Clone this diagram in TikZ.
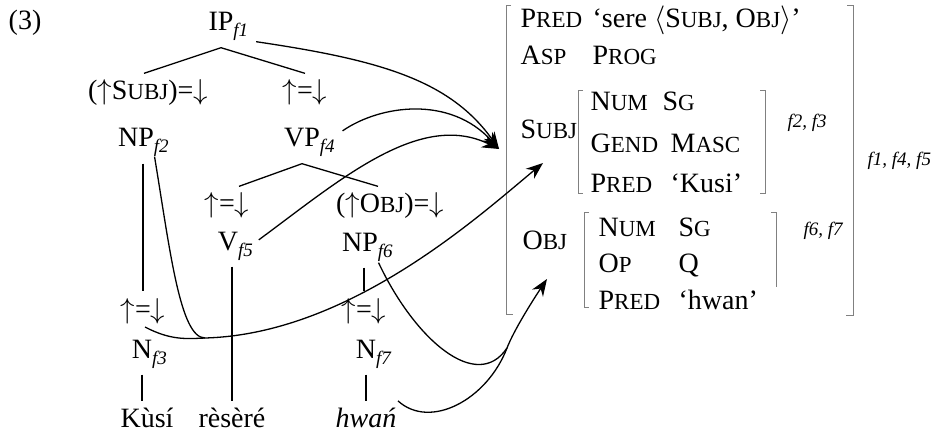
\documentclass[tikz,border=0pt]{standalone}
\usepackage{fontspec}
\setmainfont{Liberation Serif}
\usetikzlibrary{arrows.meta,positioning}
\definecolor{brk}{gray}{0.5}
\newcommand\smc[2]{#1{\fontsize{11.5pt}{12pt}\selectfont #2}}
\newcommand\fsub[1]{\rlap{\raisebox{-3pt}{\fontsize{9.5pt}{10pt}\selectfont\itshape #1}}}
\newcommand\up{$\uparrow$}
\newcommand\dn{$\downarrow$}
\begin{document}
\begin{tikzpicture}[x=0.5pt,y=-0.5pt,line width=0.65pt,
every node/.style={font=\fontsize{14pt}{16pt}\selectfont,inner sep=3pt,anchor=base},
av/.style={anchor=base west,inner sep=0pt},
fl/.style={anchor=base west,inner sep=0pt,font=\fontsize{9.5pt}{11pt}\selectfont\itshape},
brk/.style={draw=brk,line width=0.45pt},
arr/.style={-{Stealth[length=8.5pt,width=6.5pt]}}]
\useasboundingbox (0,0) rectangle (937,433);
\node (ex) at (25,30) {(3)};
\node (ip) at (221,31) {IP\fsub{f1}};
\node (su) at (148,100) {(\up\smc{S}{UBJ})=\dn};
\node (hd) at (305,100) {\up=\dn};
\node (np2) at (136,147) {NP\fsub{f2}};
\node (vp) at (302,147) {VP\fsub{f4}};
\node (hv) at (227,213) {\up=\dn};
\node (ob) at (390,213) {(\up\smc{O}{BJ})=\dn};
\node (v) at (228,250) {V\fsub{f5}};
\node (np6) at (360,251) {NP\fsub{f6}};
\node (h3) at (143,318) {\up=\dn};
\node (h7) at (364,318) {\up=\dn};
\node (n3) at (142,358) {N\fsub{f3}};
\node (n7) at (366,358) {N\fsub{f7}};
\node (w1) at (147,427) {Kùsí};
\node (w2) at (232,427) {rèsèré};
\node (w3) at (366,427) {\itshape hwań};
\draw (ip.south) -- ([xshift=-2pt]su.north) (ip.south) -- (hd.north);
\draw (vp.south) -- ([xshift=6pt]hv.north) (vp.south) -- ([xshift=-6pt]ob.north);
\draw (h3.north |- np2.south) -- (h3.north);
\draw (w2.north |- v.south) -- (w2.north);
\draw (h7.north |- np6.south) -- (h7.north);
\draw (n3.south) -- (n3.south |- w1.north);
\draw (n7.south) -- (n7.south |- w3.north);
\node[av] (p1) at (520,28) {\smc{P}{RED}};
\node[av] (p1v) at (592,28) {‘sere $\langle$\smc{S}{UBJ}, \smc{O}{BJ}$\rangle$’};
\node[av] (as) at (520,65) {\smc{A}{SP}};
\node[av] (asv) at (592,65) {\smc{P}{ROG}};
\node[av] (sj) at (520,139) {\smc{S}{UBJ}};
\node[av] (nm1) at (590,111) {\smc{N}{UM}};
\node[av] (nm1v) at (662,111) {\smc{S}{G}};
\node[av] (gd) at (590,153) {\smc{G}{END}};
\node[av] (gdv) at (670,153) {\smc{M}{ASC}};
\node[av] (p2) at (590,192) {\smc{P}{RED}};
\node[av] (p2v) at (670,192) {‘Kusi’};
\node[fl] (l23) at (787,127) {f2, f3};
\node[fl] (l145) at (867,165) {f1, f4, f5};
\node[av] (oj) at (522,249) {\smc{O}{BJ}};
\node[av] (nm2) at (598,236) {\smc{N}{UM}};
\node[av] (nm2v) at (678,236) {\smc{S}{G}};
\node[av] (op) at (598,272) {\smc{O}{P}};
\node[av] (opv) at (678,272) {Q};
\node[av] (p3) at (598,309) {\smc{P}{RED}};
\node[av] (p3v) at (678,309) {‘hwan’};
\node[fl] (l67) at (803,235) {f6, f7};
\draw[brk] (511,5) -- (506,5) -- (506,314) -- (513,314);
\draw[brk] (847,5) -- (853,5) -- (853,315) -- (846,315);
\draw[brk] (583,90) -- (578,90) -- (578,193) -- (583,193);
\draw[brk] (760,90) -- (765,90) -- (765,193) -- (760,193);
\draw[brk] (589,212) -- (584,212) -- (584,307) -- (589,307);
\draw[brk] (771,212) -- (776,212) -- (776,287);
\coordinate (tf) at (499,149);
\coordinate (ts) at (543,163);
\coordinate (to) at (547,279);
\coordinate (ms) at (205,338);
\coordinate (mo) at (507,348);
\draw[arr] ([xshift=8pt,yshift=3pt]ip.south east) .. controls (380,60) and (450,80) .. (tf);
\draw[arr] ([xshift=8pt,yshift=6pt]vp.east) .. controls (380,105) and (450,95) .. (tf);
\draw[arr] ([xshift=7pt,yshift=3pt]v.east) .. controls (340,180) and (420,110) .. (tf);
\draw[arr] ([xshift=1.5pt,yshift=3pt]n3.north) .. controls (170,340) and (185,339) .. (ms) .. controls (350,334) and (480,215) .. (ts);
\draw ([xshift=-3pt,yshift=3.5pt]np2.south east) .. controls (170,250) and (180,338) .. (ms);
\draw ([xshift=-3pt,yshift=2.5pt]np6.south east) .. controls (415,340) and (477,393) .. (mo);
\draw[arr] ([xshift=-2.5pt]w3.north east) .. controls (430,430) and (487,400) .. (mo) .. controls (514,330) and (533,300) .. (to);
\end{tikzpicture}
\end{document}
